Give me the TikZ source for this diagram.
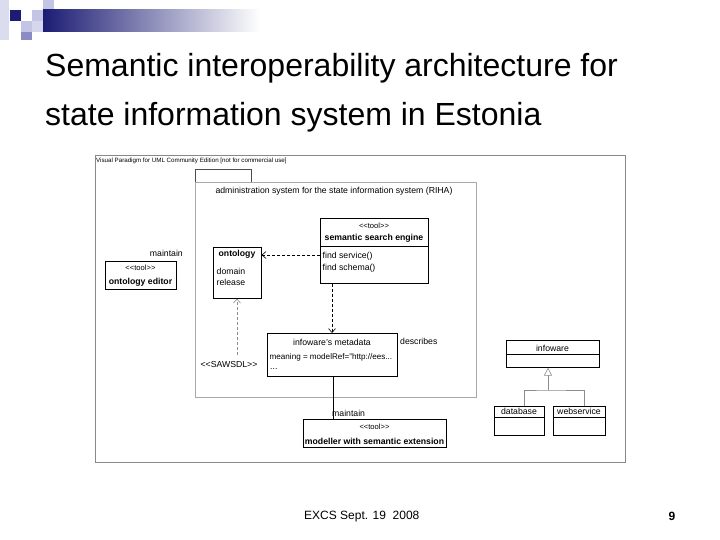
\documentclass[tikz,border=0pt]{standalone}
\usepackage{fontspec}
\setmainfont{Liberation Sans}
\usetikzlibrary{arrows.meta,shadows}
\definecolor{navy}{HTML}{1C1C74}
\definecolor{lav}{HTML}{C4C4E4}
\definecolor{midblue}{HTML}{8C8CC4}
\definecolor{pkggray}{HTML}{A8A8A8}
\definecolor{framegray}{HTML}{888888}
\newcommand{\stereo}[1]{{<}{<}#1{>}{>}}
\begin{document}
\begin{tikzpicture}[x=1pt,y=-1pt,
  box/.style={draw=black, line width=0.6pt, fill=white, inner sep=0pt,
    drop shadow={shadow xshift=0.9pt, shadow yshift=-0.9pt, fill=black!55, opacity=0.8}},
  pkg/.style={draw=pkggray, line width=0.7pt, inner sep=0pt},
  txt/.style={inner sep=0pt, font=\fontsize{8.7}{10}\selectfont},
  bold/.style={inner sep=0pt, font=\fontsize{8.7}{10}\selectfont\bfseries},
  st/.style={inner sep=0pt, font=\fontsize{7.6}{9}\selectfont},
  dep/.style={draw=black, line width=0.6pt, dash pattern=on 3pt off 2pt,
    -{Straight Barb[length=4pt,width=7pt]}},
  sdep/.style={draw=black!45, line width=0.6pt, dash pattern=on 3pt off 2pt,
    -{Straight Barb[length=4pt,width=7pt]}},
  assoc/.style={draw=black, line width=0.7pt},
  gline/.style={draw=black!45, line width=0.6pt},
]
\useasboundingbox (0,0) rectangle (720,540);
% decoration
\fill[lav!60] (0,0) rectangle (9,40);
\fill[navy] (10,10) rectangle (21,21);
\fill[lav] (32,10) rectangle (43,21);
\fill[lav] (43,0) rectangle (54,10);
\fill[lav] (21,21) rectangle (32,32);
\fill[lav!70] (32,21) rectangle (43,32);
\fill[midblue] (21,32) rectangle (32,40);
\shade[left color=navy, right color=white] (43,10) rectangle (260,32);
% title
\node[anchor=west, inner sep=0pt, font=\fontsize{32}{38}\selectfont] (t1) at (45,68) {Semantic interoperability architecture for};
\node[anchor=west, inner sep=0pt, font=\fontsize{32}{38}\selectfont] (t2) at (45,117) {state information system in Estonia};
% frame
\node[draw=framegray, line width=0.8pt, inner sep=0pt, anchor=north west, minimum width=530pt, minimum height=307pt] (frame) at (95,155) {};
\node[anchor=west, inner sep=0pt, font=\fontsize{6.2}{7}\selectfont] (vp) at (96,160.5) {Visual Paradigm for UML Community Edition [not for commercial use]};
% package
\node[draw=black!70, line width=0.6pt, inner sep=0pt, anchor=north west, minimum width=56pt, minimum height=13pt] (tab) at (195,169) {};
\node[pkg, anchor=north west, minimum width=281pt, minimum height=215pt] (riha) at (195,182) {};
\node[txt] (rihat) at (334,191) {administration system for the state information system (RIHA)};
% ontology editor
\node[box, anchor=north west, minimum width=71pt, minimum height=28pt] (editor) at (105,261) {};
\node[st] (edst) at (140.5,267.5) {\stereo{tool}};
\node[bold] (edn) at (140.5,282) {ontology editor};
\node[txt, anchor=east] (maint1) at (183,253) {maintain};
% ontology
\node[box, anchor=north west, minimum width=48pt, minimum height=51pt] (onto) at (213,247) {};
\node[bold] (onton) at (237,254.5) {ontology};
\node[txt, anchor=west] (dom) at (216.5,271) {domain};
\node[txt, anchor=west] (rel) at (216.5,282) {release};
% search engine
\node[box, anchor=north west, minimum width=108pt, minimum height=65pt] (engine) at (320,218) {};
\node[st] (engst) at (374,225.5) {\stereo{tool}};
\node[bold] (engn) at (374,238) {semantic search engine};
\coordinate (es) at (0,246);
\draw[line width=0.5pt] (engine.west |- es) -- (engine.east |- es);
\node[txt, anchor=west] (f1) at (322.5,256) {find service()};
\node[txt, anchor=west] (f2) at (322.5,268) {find schema()};
% metadata
\node[box, anchor=north west, minimum width=130pt, minimum height=43pt] (meta) at (267,333) {};
\node[txt] (metan) at (332,342) {infoware's metadata};
\node[inner sep=0pt, font=\fontsize{8.1}{10}\selectfont, anchor=west] (mean) at (269.5,357) {meaning = modelRef="http://ees...};
\node[txt, anchor=west] (dots) at (270,369) {...};
\node[txt, anchor=west] (desc) at (400,341) {describes};
% SAWSDL
\node[txt] (saw) at (229,365) {\stereo{SAWSDL}};
% modeller
\node[box, anchor=north west, minimum width=143pt, minimum height=28pt] (modeller) at (303,419) {};
\node[st] (modst) at (374.5,427) {\stereo{tool}};
\node[bold] (modn) at (374.5,441) {modeller with semantic extension};
\node[txt, anchor=west] (maint2) at (332,413) {maintain};
% connectors
\coordinate (r1) at (0,255);
\draw[dep] (engine.west |- r1) -- (onto.east |- r1);
\coordinate (c2) at (332,0);
\draw[dep] (engine.south -| c2) -- (meta.north -| c2);
\coordinate (c3) at (237,355);
\draw[sdep] (c3) -- (onto.south -| c3);
\coordinate (c4) at (333,0);
\draw[assoc] (meta.south -| c4) -- (modeller.north -| c4);
% infoware hierarchy
\node[box, anchor=north west, minimum width=93pt, minimum height=27pt] (infoware) at (506,340) {};
\coordinate (is) at (0,354);
\draw[line width=0.5pt] (infoware.west |- is) -- (infoware.east |- is);
\node[txt] (infn) at (552.5,348) {infoware};
\node[box, anchor=north west, minimum width=50pt, minimum height=29pt] (db) at (494,406) {};
\coordinate (ds) at (0,417);
\draw[line width=0.5pt] (db.west |- ds) -- (db.east |- ds);
\node[txt] (dbn) at (519,411.5) {database};
\node[box, anchor=north west, minimum width=52pt, minimum height=29pt] (ws) at (553,406) {};
\draw[line width=0.5pt] (ws.west |- ds) -- (ws.east |- ds);
\node[txt] (wsn) at (579,411.5) {webservice};
\coordinate (hj) at (548,390);
\coordinate (dbx) at (524,0);
\coordinate (wsx) at (584,0);
\draw[gline] (db.north -| dbx) |- (hj) -| (ws.north -| wsx);
\draw[gline, -{Triangle[open, length=8pt, width=8pt]}] (hj) -- (infoware.south -| hj);
% footer
\node[inner sep=0pt, font=\fontsize{12}{14}\selectfont, anchor=west] (foot) at (304,517) {EXCS Sept. 19\ \ 2008};
\node[inner sep=0pt, font=\fontsize{12}{14}\selectfont\bfseries] (pg) at (672,516) {9};
\end{tikzpicture}
\end{document}
